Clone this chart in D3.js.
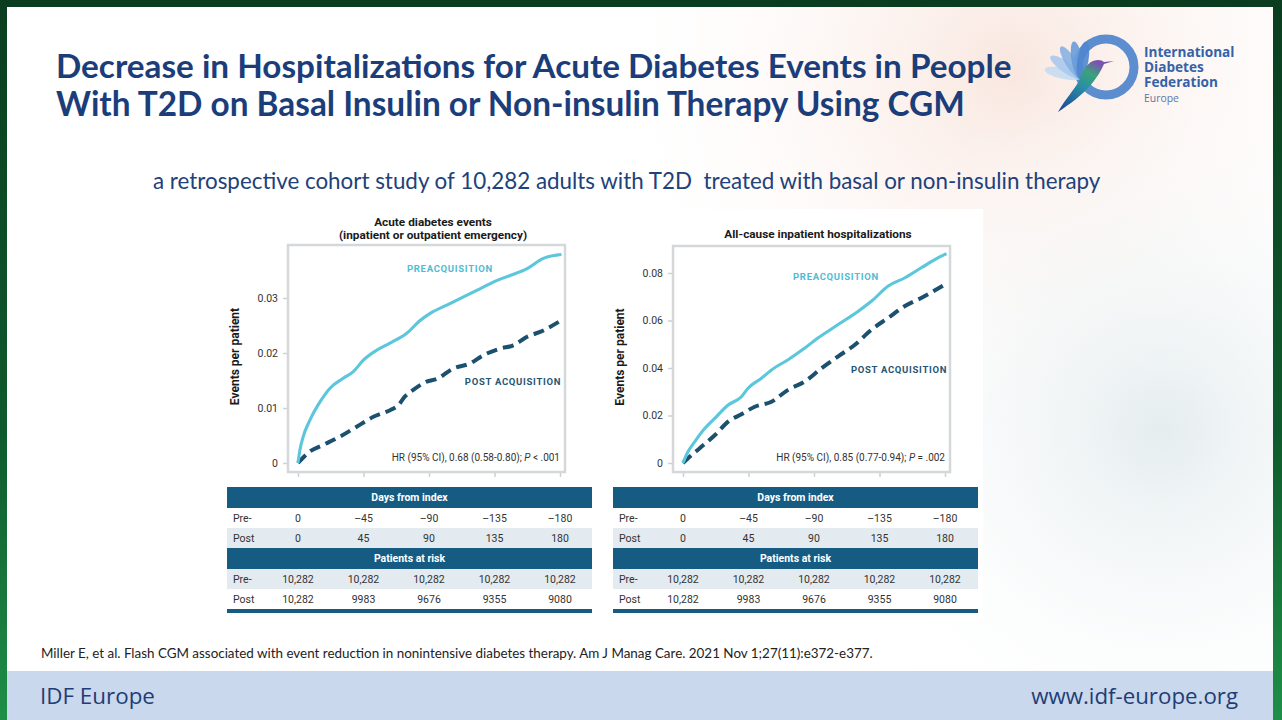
<!DOCTYPE html>
<html>
<head>
<meta charset="utf-8">
<script src="https://cdn.jsdelivr.net/npm/d3@7"></script>
<style>
  body { margin: 0; background: #fff; }
  svg { display: block; }
</style>
</head>
<body>
<svg id="slide" width="1282" height="720"></svg>
<script>
// ---- data ----
const dayTicks = [0, 45, 90, 135, 180];
const preDayLabels = ['0', '–45', '–90', '–135', '–180'];
const postDayLabels = ['0', '45', '90', '135', '180'];
const atRiskPre = ['10,282', '10,282', '10,282', '10,282', '10,282'];
const atRiskPost = ['10,282', '9983', '9676', '9355', '9080'];

const acuteYTicks = [0, 0.01, 0.02, 0.03];
const allCauseYTicks = [0, 0.02, 0.04, 0.06, 0.08];

// [day, events per patient]
const acutePre = [
  [0, 0], [1.2, 0.0022], [3.6, 0.0048], [8.2, 0.0078], [15.1, 0.0111], [22, 0.0136],
  [31.1, 0.0154], [38, 0.0166], [44.9, 0.0187], [54, 0.0205], [63.2, 0.0218],
  [74.7, 0.0236], [83.9, 0.0259], [90.8, 0.0272], [102.2, 0.0287],
  [113.7, 0.0302], [122.8, 0.0314], [134.2, 0.0329], [145.7, 0.0341], [157.1, 0.0353],
  [168.6, 0.0372], [181, 0.0379]
];
const acutePost = [
  [0, 0], [8.2, 0.0021], [17.4, 0.0033], [28.9, 0.0048], [40.3, 0.0066], [51.8, 0.0084],
  [63.2, 0.0096], [68.9, 0.0105], [73.5, 0.0121], [79.2, 0.0133], [88.4, 0.0148],
  [95.4, 0.0153], [106.8, 0.0172], [118.2, 0.0181], [127.4, 0.0196], [138.8, 0.0208],
  [147.9, 0.0214], [157.1, 0.0229], [168.6, 0.0241], [180, 0.0258]
];
const allCausePre = [
  [0, 0], [3.4, 0.0047], [8.0, 0.0089], [14.9, 0.0145], [21.8, 0.0188], [31.0, 0.0244],
  [40.1, 0.0279], [44.7, 0.0315], [53.9, 0.0357], [60.8, 0.0392], [72.2, 0.0435],
  [83.7, 0.0484], [92.9, 0.0527], [106.6, 0.0583], [120.4, 0.0639], [129.6, 0.0682],
  [141.0, 0.0745], [152.5, 0.0780], [164, 0.0823], [175.4, 0.0865], [181, 0.0882]
];
const allCausePost = [
  [0, 0], [5.7, 0.0032], [12.6, 0.0068], [21.8, 0.0117], [31.0, 0.0174], [40.1, 0.0205],
  [49.3, 0.0237], [60.8, 0.0258], [72.2, 0.0308], [83.7, 0.0343], [95.2, 0.0399],
  [106.6, 0.0449], [118.1, 0.0498], [129.6, 0.0562], [141, 0.0611], [152.5, 0.0661],
  [164, 0.0696], [180, 0.0752]
];

const colors = {
  pre: '#5bc6dc',
  post: '#1b506e',
  preLabel: '#4fbcd4',
  postLabel: '#1f5674',
  band: '#165c82',
  stripe: '#e3eaf0',
  frame: '#d5d8db',
  navy: '#1b3e7a'
};

const svg = d3.select('#slide');
const defs = svg.append('defs');

// scale a text's font size so that it spans the given width (optionally capped)
const fit = (sel, w, maxSize = Infinity) => {
  const len = sel.node().getComputedTextLength();
  sel.attr('font-size', Math.min(maxSize, parseFloat(sel.attr('font-size')) * w / len));
  return sel;
};

// ---- slide background ----
const frameGrad = defs.append('linearGradient').attr('id', 'frameGrad')
  .attr('x1', 0).attr('y1', 0).attr('x2', 0).attr('y2', 1);
frameGrad.append('stop').attr('offset', 0).attr('stop-color', '#0a3d1f');
frameGrad.append('stop').attr('offset', 0.6).attr('stop-color', '#0f5a2c');
frameGrad.append('stop').attr('offset', 1).attr('stop-color', '#1f8f48');

const peach = defs.append('radialGradient').attr('id', 'peach')
  .attr('gradientUnits', 'userSpaceOnUse').attr('cx', 1010).attr('cy', 70).attr('r', 430);
peach.append('stop').attr('offset', 0).attr('stop-color', '#f8e4dc').attr('stop-opacity', 0.9);
peach.append('stop').attr('offset', 1).attr('stop-color', '#ffffff').attr('stop-opacity', 0);

const mist = defs.append('radialGradient').attr('id', 'mist')
  .attr('gradientUnits', 'userSpaceOnUse').attr('cx', 1160).attr('cy', 430).attr('r', 360);
mist.append('stop').attr('offset', 0).attr('stop-color', '#e4ecee').attr('stop-opacity', 0.95);
mist.append('stop').attr('offset', 1).attr('stop-color', '#ffffff').attr('stop-opacity', 0);

svg.append('rect').attr('width', 1282).attr('height', 720).attr('fill', 'url(#frameGrad)');
svg.append('rect').attr('x', 7).attr('y', 7).attr('width', 1266).attr('height', 713).attr('fill', '#fff');
svg.append('rect').attr('x', 7).attr('y', 7).attr('width', 1266).attr('height', 664).attr('fill', 'url(#peach)');
svg.append('rect').attr('x', 7).attr('y', 7).attr('width', 1266).attr('height', 664).attr('fill', 'url(#mist)');
svg.append('rect').attr('x', 7).attr('y', 671).attr('width', 1266).attr('height', 49).attr('fill', '#c9d8ec');

// ---- header ----
const title = svg.append('g').attr('font-family', 'Lato, sans-serif').attr('font-weight', 700).attr('fill', colors.navy);
fit(title.append('text').attr('x', 56).attr('y', 78).attr('font-size', 30)
  .text('Decrease in Hospitalizations for Acute Diabetes Events in People'), 956);
fit(title.append('text').attr('x', 56).attr('y', 116).attr('font-size', 30)
  .text('With T2D on Basal Insulin or Non-insulin Therapy Using CGM'), 909);

fit(svg.append('text').attr('x', 153).attr('y', 189).attr('font-size', 22)
  .attr('font-family', 'Lato, sans-serif').attr('fill', '#21417a')
  .text('a retrospective cohort study of 10,282 adults with T2D  treated with basal or non-insulin therapy')
  .style('white-space', 'pre'), 948);

// ---- logo ----
const logo = svg.append('g');
logo.append('circle').attr('cx', 1106).attr('cy', 67).attr('r', 28)
  .attr('fill', 'none').attr('stroke', '#5b8dcf').attr('stroke-width', 9);
const petalColors = ['#c5dbf2', '#a9c9ec', '#86b1e3', '#6a9bd9', '#4f86cf'];
[-168, -145, -122, -100, -80].forEach((a, i) => {
  logo.append('ellipse').attr('cx', 0).attr('cy', 0).attr('rx', 19).attr('ry', 5.5)
    .attr('transform', `translate(1080,77) rotate(${a}) translate(17,0)`)
    .attr('fill', petalColors[i]).attr('opacity', 0.9);
});
const birdGrad = defs.append('linearGradient').attr('id', 'bird')
  .attr('x1', 0).attr('y1', 1).attr('x2', 0.6).attr('y2', 0);
birdGrad.append('stop').attr('offset', 0).attr('stop-color', '#1d3f96');
birdGrad.append('stop').attr('offset', 0.55).attr('stop-color', '#2a8fa6');
birdGrad.append('stop').attr('offset', 0.8).attr('stop-color', '#3aa37a');
birdGrad.append('stop').attr('offset', 1).attr('stop-color', '#7a55b0');
logo.append('path')
  .attr('d', 'M1058,112 C1066,98 1074,90 1079,81 C1082,72 1086,64 1093,61 C1098,59 1102,60 1104,62 L1114,61 L1104,64 C1101,71 1096,79 1090,86 C1082,95 1070,104 1058,112 Z')
  .attr('fill', 'url(#bird)');

const logoText = svg.append('g').attr('font-family', '"Open Sans", sans-serif').attr('fill', '#3462a8');
fit(logoText.append('text').attr('x', 1144).attr('y', 57).attr('font-size', 14).attr('font-weight', 700).text('International'), 91, 13.6);
fit(logoText.append('text').attr('x', 1144).attr('y', 72).attr('font-size', 14).attr('font-weight', 700).text('Diabetes'), 62, 13.6);
fit(logoText.append('text').attr('x', 1144).attr('y', 87).attr('font-size', 14).attr('font-weight', 700).text('Federation'), 76, 13.6);
fit(logoText.append('text').attr('x', 1144).attr('y', 102).attr('font-size', 10).attr('fill', '#5a76aa').text('Europe'), 35, 10.5);

// ---- figure panel ----
svg.append('rect').attr('x', 218).attr('y', 209).attr('width', 765).attr('height', 411).attr('fill', '#fff');

const panels = [
  {
    titleLines: ['Acute diabetes events', '(inpatient or outpatient emergency)'],
    titleY: 226, titleX: 433,
    frame: [288, 245, 565, 472],
    xRange: [298, 560], yRange: [463, 298],
    yTicks: acuteYTicks, fmt: '.2f',
    pre: acutePre, post: acutePost,
    preLabel: [104.4, 0.0347], postLabel: [147.7, 0.0142],
    hr: ['HR (95% CI), 0.68 (0.58-0.80); ', 'P', ' < .001'],
    yLabelX: 237,
    table: [227, 592]
  },
  {
    titleLines: ['All-cause inpatient hospitalizations'],
    titleY: 238, titleX: 818,
    frame: [673, 246, 950, 472],
    xRange: [683, 945], yRange: [463, 273],
    yTicks: allCauseYTicks, fmt: '.2f',
    pre: allCausePre, post: allCausePost,
    preLabel: [105.1, 0.0771], postLabel: [148.4, 0.0379],
    hr: ['HR (95% CI), 0.85 (0.77-0.94); ', 'P', ' = .002'],
    yLabelX: 622,
    table: [613, 978]
  }
];

const chartFont = 'Roboto, "DejaVu Sans", sans-serif';

const drawPanel = (cfg) => {
  const g = svg.append('g').attr('font-family', chartFont);
  const x = d3.scaleLinear().domain([0, 180]).range(cfg.xRange);
  const y = d3.scaleLinear().domain([0, cfg.yTicks[cfg.yTicks.length - 1]]).range(cfg.yRange);
  const [fx0, fy0, fx1, fy1] = cfg.frame;

  cfg.titleLines.forEach((t, i) => {
    g.append('text').attr('x', cfg.titleX).attr('y', cfg.titleY + i * 13)
      .attr('text-anchor', 'middle').attr('font-size', 11.8).attr('font-weight', 700)
      .attr('fill', '#1a1a1a').text(t);
  });

  g.append('rect').attr('x', fx0).attr('y', fy0).attr('width', fx1 - fx0).attr('height', fy1 - fy0)
    .attr('fill', 'none').attr('stroke', colors.frame).attr('stroke-width', 2.5);

  const xAxis = g.append('g').attr('transform', `translate(0,${fy1 + 1})`)
    .call(d3.axisBottom(x).tickValues(dayTicks).tickSize(4).tickFormat(''));
  xAxis.select('.domain').remove();
  xAxis.selectAll('line').attr('stroke', '#cdd1d4').attr('stroke-width', 1.5);

  const yAxis = g.append('g').attr('transform', `translate(${fx0 - 1},0)`)
    .call(d3.axisLeft(y).tickValues(cfg.yTicks).tickSize(4).tickPadding(5)
      .tickFormat((d) => (d === 0 ? '0' : d3.format(cfg.fmt)(d))));
  yAxis.select('.domain').remove();
  yAxis.selectAll('line').attr('stroke', '#cdd1d4').attr('stroke-width', 1.5);
  yAxis.selectAll('text').attr('font-family', chartFont).attr('font-size', 10.5).attr('fill', '#333');

  g.append('text').attr('transform', `translate(${cfg.yLabelX + 2},${(fy0 + fy1) / 2 - 2}) rotate(-90)`)
    .attr('text-anchor', 'middle').attr('font-size', 12).attr('font-weight', 700)
    .attr('fill', '#1a1a1a').text('Events per patient');

  const line = d3.line().x((d) => x(d[0])).y((d) => y(d[1])).curve(d3.curveMonotoneX);

  g.append('path').datum(cfg.post).attr('d', line).attr('fill', 'none')
    .attr('stroke', colors.post).attr('stroke-width', 4).attr('stroke-dasharray', '11 6');
  g.append('path').datum(cfg.pre).attr('d', line).attr('fill', 'none')
    .attr('stroke', colors.pre).attr('stroke-width', 3.1).attr('stroke-linejoin', 'round');

  g.append('text').attr('x', x(cfg.preLabel[0])).attr('y', y(cfg.preLabel[1]))
    .attr('text-anchor', 'middle').attr('font-size', 9.5).attr('font-weight', 700)
    .attr('letter-spacing', 0.7).attr('fill', colors.preLabel).text('PREACQUISITION');
  g.append('text').attr('x', x(cfg.postLabel[0])).attr('y', y(cfg.postLabel[1]))
    .attr('text-anchor', 'middle').attr('font-size', 9.5).attr('font-weight', 700)
    .attr('letter-spacing', 0.7).attr('fill', colors.postLabel).text('POST ACQUISITION');

  const hr = g.append('text').attr('x', x(180)).attr('y', y(0) - 2)
    .attr('text-anchor', 'end').attr('font-size', 10).attr('fill', '#333');
  hr.append('tspan').text(cfg.hr[0]);
  hr.append('tspan').attr('font-style', 'italic').text(cfg.hr[1]);
  hr.append('tspan').text(cfg.hr[2]);

  // table under the plot; its columns sit on the same x scale
  const [tx0, tx1] = cfg.table;
  const rows = [
    { head: 'Days from index' },
    { label: 'Pre-', values: preDayLabels, fill: '#fff' },
    { label: 'Post', values: postDayLabels, fill: colors.stripe },
    { head: 'Patients at risk' },
    { label: 'Pre-', values: atRiskPre, fill: colors.stripe },
    { label: 'Post', values: atRiskPost, fill: '#fff' }
  ];
  let ty = 487;
  rows.forEach((row) => {
    const h = row.head ? 21 : 20;
    if (row.head) {
      g.append('rect').attr('x', tx0).attr('y', ty).attr('width', tx1 - tx0).attr('height', h).attr('fill', colors.band);
      g.append('text').attr('x', (tx0 + tx1) / 2).attr('y', ty + h / 2 + 3.8)
        .attr('text-anchor', 'middle').attr('font-size', 10.5).attr('font-weight', 700)
        .attr('fill', '#fff').text(row.head);
    } else {
      g.append('rect').attr('x', tx0).attr('y', ty).attr('width', tx1 - tx0).attr('height', h).attr('fill', row.fill);
      g.append('text').attr('x', tx0 + 6).attr('y', ty + h / 2 + 3.8)
        .attr('font-size', 10.5).attr('fill', '#333').text(row.label);
      g.selectAll(null).data(row.values).enter().append('text')
        .attr('x', (d, i) => x(dayTicks[i])).attr('y', ty + h / 2 + 3.8)
        .attr('text-anchor', 'middle').attr('font-size', 10.5).attr('fill', '#333')
        .text((d) => d);
    }
    ty += h;
  });
  g.append('rect').attr('x', tx0).attr('y', ty).attr('width', tx1 - tx0).attr('height', 4).attr('fill', colors.band);
};

panels.forEach(drawPanel);

// ---- citation and footer ----
fit(svg.append('text').attr('x', 41).attr('y', 658).attr('font-size', 14)
  .attr('font-family', 'Lato, sans-serif').attr('fill', '#222')
  .text('Miller E, et al. Flash CGM associated with event reduction in nonintensive diabetes therapy. Am J Manag Care. 2021 Nov 1;27(11):e372-e377.'), 832);

fit(svg.append('text').attr('x', 40).attr('y', 704).attr('font-size', 22)
  .attr('font-family', '"Open Sans", sans-serif').attr('fill', '#1f3d75').text('IDF Europe'), 115);
const url = svg.append('text').attr('x', 1238).attr('y', 704).attr('font-size', 22)
  .attr('text-anchor', 'end').attr('font-family', '"Open Sans", sans-serif').attr('fill', '#1f3d75')
  .text('www.idf-europe.org');
fit(url, 207);
</script>
</body>
</html>
